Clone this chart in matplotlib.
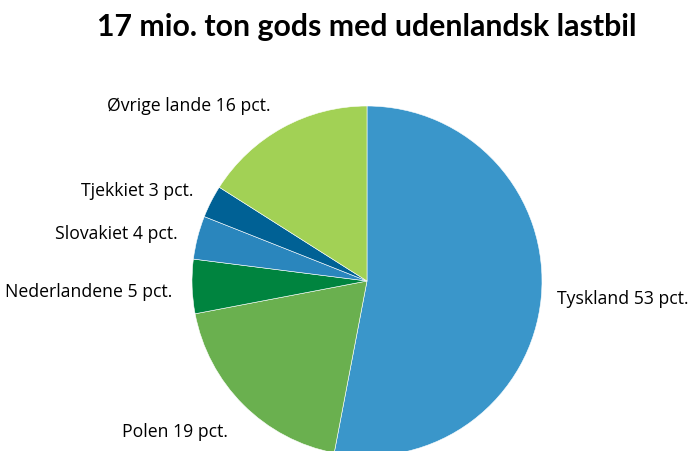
import matplotlib.pyplot as plt

# Data
labels = ['Tyskland', 'Polen', 'Nederlandene', 'Slovakiet', 'Tjekkiet', 'Øvrige lande']
shares = [53, 19, 5, 4, 3, 16]
colors = ['#3a96ca', '#6ab04f', '#00843f', '#2a86bd', '#006195', '#a2d155']

# label placement (data units, radius = 1)
label_pos = [(1.086, -0.10, 'left'), (-0.794, -0.857, 'right'), (-1.114, -0.057, 'right'),
             (-1.08, 0.274, 'right'), (-0.994, 0.52, 'right'), (-0.554, 1.006, 'right')]

W, H = 692, 452
fig = plt.figure(figsize=(W / 100, H / 100), dpi=100)

cx, cy, r = 367, 282, 175
ax = fig.add_axes([(cx - r) / W, (H - cy - r) / H, 2 * r / W, 2 * r / H])
ax.pie(shares, colors=colors, startangle=90, counterclock=False, radius=1,
       wedgeprops=dict(linewidth=0.4, edgecolor='white'))
ax.set_xlim(-1, 1)
ax.set_ylim(-1, 1)
ax.set_aspect('equal')
ax.axis('off')

for lab, val, (x, y, ha) in zip(labels, shares, label_pos):
    ax.text(x, y, f'{lab} {val} pct.', ha=ha, va='center', fontsize=12.7,
            family='Open Sans', clip_on=False)

fig.text(cx / W, 1 - 27 / H, '17 mio. ton gods med udenlandsk lastbil', ha='center', va='center',
         fontsize=21.8, fontweight='bold', family='Lato')

fig.savefig('out.png', dpi=100)
